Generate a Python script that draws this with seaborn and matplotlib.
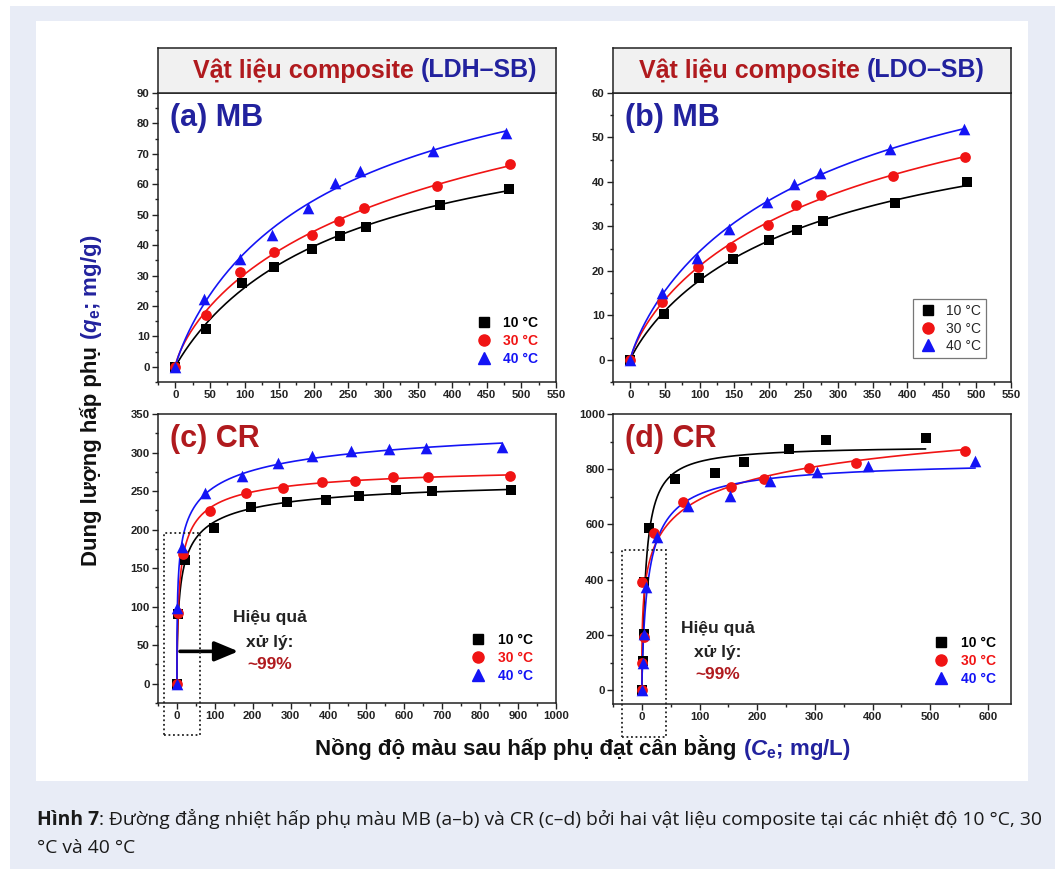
import numpy as np
import pandas as pd
import matplotlib
matplotlib.use("Agg")
import matplotlib.pyplot as plt
import seaborn as sns
from matplotlib.lines import Line2D
from matplotlib.patches import Rectangle
from matplotlib.ticker import MultipleLocator

# ---------------- data ----------------
temps = ["10 °C", "30 °C", "40 °C"]

# (a) MB on LDH-SB
a_C10 = [0, 44, 96, 143, 198, 238, 276, 382, 482]
a_q10 = [0, 12.4, 27.7, 32.9, 38.6, 43.0, 46.0, 53.3, 58.3]
a_C30 = [0, 44, 94, 142, 197, 237, 273, 378, 484]
a_q30 = [0, 17.0, 31.3, 37.8, 43.2, 47.8, 52.3, 59.3, 66.5]
a_C40 = [0, 42, 93, 139, 192, 230, 267, 372, 478]
a_q40 = [0, 22.2, 35.3, 43.2, 52.3, 60.3, 64.2, 71.0, 76.8]

# (b) MB on LDO-SB
b_C10 = [0, 48, 99, 148, 200, 241, 279, 382, 487]
b_q10 = [0, 10.2, 18.5, 22.6, 26.9, 29.1, 31.3, 35.2, 39.9]
b_C30 = [0, 46, 98, 145, 199, 239, 276, 379, 484]
b_q30 = [0, 13.0, 20.9, 25.4, 30.3, 34.7, 37.0, 41.3, 45.5]
b_C40 = [0, 46, 97, 143, 197, 236, 274, 375, 482]
b_q40 = [0, 15.1, 23.0, 29.5, 35.5, 39.6, 41.9, 47.3, 51.8]

# (c) CR on LDH-SB
c_C10 = [0, 4, 20, 99, 195, 290, 393, 479, 579, 672, 880]
c_q10 = [0, 90.7, 160, 202, 229, 236, 239, 243, 251.5, 250, 251.5]
c_C30 = [0, 3, 16, 86, 183, 279, 382, 469, 570, 663, 878]
c_q30 = [0, 92, 168.5, 224.7, 247, 253.7, 261.5, 263.6, 268, 268.8, 270]
c_C40 = [0, 1, 12, 74, 172, 266, 355, 458, 559, 657, 857]
c_q40 = [0, 98, 178, 247, 269, 286, 295.6, 302, 304, 305.5, 307.7]

# (d) CR on LDO-SB
d_C10 = [0, 2, 3, 3, 13, 57, 126, 177, 255, 320, 492]
d_q10 = [0, 104, 203, 391, 588, 763, 787, 827, 873, 906, 912]
d_C30 = [0, 0.6, 3, 0.5, 21, 71, 154, 212, 290, 371, 561]
d_q30 = [0, 100, 194, 391, 569, 681, 734, 763, 805, 823, 867]
d_C40 = [0, 2, 3, 8, 26, 80, 152, 223, 304, 392, 578]
d_q40 = [0, 100, 203, 375, 554, 666, 702, 757, 790, 811, 830]

panel_labels = ["(a) MB", "(b) MB", "(c) CR", "(d) CR"]
titles = ["LDH–SB", "LDO–SB"]
note_lines = ["Hiệu quả", "xử lý:", "~99%"]

# ---------------- style ----------------
W, H = 1058, 869
sns.set_theme(style="ticks")
plt.rcParams["font.family"] = ["Liberation Sans", "DejaVu Sans"]
plt.rcParams["mathtext.fontset"] = "custom"
plt.rcParams["mathtext.rm"] = "Liberation Sans:bold"
plt.rcParams["mathtext.bf"] = "Liberation Sans:bold"
plt.rcParams["mathtext.it"] = "Liberation Sans:italic:bold"

DARKRED = "#b01a1e"
TBLUE = "#22229e"
cols = ["#000000", "#f01414", "#1414f5"]
markers = ["s", "o", "^"]
msizes = [52, 60, 70]

fig = plt.figure(figsize=(W / 100, H / 100), dpi=100)
fig.patch.set_facecolor("white")
fig.patches.append(Rectangle((10 / W, 0), (1055 - 10) / W, 1 - 6 / H,
                             transform=fig.transFigure, facecolor="#e8ecf6",
                             edgecolor="none", zorder=-10))
fig.patches.append(Rectangle((36 / W, 1 - 781 / H), (1028 - 36) / W, (781 - 21) / H,
                             transform=fig.transFigure, facecolor="white",
                             edgecolor="none", zorder=-9))


def rect(l, t, r, b):
    return [l / W, 1 - b / H, (r - l) / W, (b - t) / H]


def sips_fit(C, q):
    C = np.asarray(C, float)
    q = np.asarray(q, float)
    best = None
    for lk in np.linspace(-5, 1.5, 131):
        K = 10 ** lk
        for n in np.linspace(0.2, 1.6, 71):
            f = (K * C) ** n
            f = f / (1 + f)
            qm = (f @ q) / (f @ f)
            err = np.sum((q - qm * f) ** 2)
            if best is None or err < best[0]:
                best = (err, qm, K, n)
    _, qm, K, n = best
    xs = np.concatenate([[0], np.geomspace(1e-3, C.max(), 500)])
    f = (K * xs) ** n
    return xs, qm * f / (1 + f)


def style_axes(ax, xlim, ylim, xmaj, ymaj):
    ax.set_xlim(*xlim)
    ax.set_ylim(*ylim)
    ax.xaxis.set_major_locator(MultipleLocator(xmaj))
    ax.xaxis.set_minor_locator(MultipleLocator(xmaj / 2))
    ax.yaxis.set_major_locator(MultipleLocator(ymaj))
    ax.yaxis.set_minor_locator(MultipleLocator(ymaj / 2))
    ax.tick_params(which="major", direction="out", length=4, width=1,
                   labelsize=8.2, colors="#222222", pad=2)
    ax.tick_params(which="minor", direction="out", length=2.2, width=1, colors="#222222")
    for lab in ax.get_xticklabels() + ax.get_yticklabels():
        lab.set_fontweight("bold")
    for s in ax.spines.values():
        s.set_linewidth(1.1)
        s.set_color("#222222")
        s.set_visible(True)
    ax.set_xlabel("")
    ax.set_ylabel("")
    ax.set_facecolor("white")


panels = [
    dict(r=rect(158, 93, 556, 382), data=[(a_C10, a_q10), (a_C30, a_q30), (a_C40, a_q40)],
         xlim=(-25, 550), ylim=(-5, 90), xmaj=50, ymaj=10, lc=TBLUE),
    dict(r=rect(613, 93, 1011, 382), data=[(b_C10, b_q10), (b_C30, b_q30), (b_C40, b_q40)],
         xlim=(-25, 550), ylim=(-5, 60), xmaj=50, ymaj=10, lc=TBLUE),
    dict(r=rect(158, 414, 556, 703), data=[(c_C10, c_q10), (c_C30, c_q30), (c_C40, c_q40)],
         xlim=(-50, 1000), ylim=(-25, 350), xmaj=100, ymaj=50, lc=DARKRED),
    dict(r=rect(613, 414, 1011, 704), data=[(d_C10, d_q10), (d_C30, d_q30), (d_C40, d_q40)],
         xlim=(-50, 640), ylim=(-50, 1000), xmaj=100, ymaj=200, lc=DARKRED),
]

axes = []
for i, p in enumerate(panels):
    ax = fig.add_axes(p["r"])
    axes.append(ax)
    for j, (C, q) in enumerate(p["data"]):
        xs, ys = sips_fit(C, q)
        sns.lineplot(x=xs, y=ys, color=cols[j], lw=1.2, ax=ax, sort=False,
                     estimator=None, legend=False, zorder=2)
    for j, (C, q) in enumerate(p["data"]):
        df = pd.DataFrame({"C": C, "q": q})
        sns.scatterplot(data=df, x="C", y="q", marker=markers[j], color=cols[j],
                        s=msizes[j], linewidth=0, ax=ax, legend=False, zorder=3,
                        clip_on=False)
    style_axes(ax, p["xlim"], p["ylim"], p["xmaj"], p["ymaj"])
    ax.text(0.03, 0.965, panel_labels[i], transform=ax.transAxes, ha="left", va="top",
            fontsize=22, fontweight="bold", color=p["lc"])

# legends
handles = [Line2D([], [], ls="none", marker=m, color=c, markersize=ms)
           for m, c, ms in zip(markers, cols, [7, 8, 8.5])]
leg_specs = [
    (axes[0], (0.955, 0.055), False),
    (axes[1], (0.937, 0.083), True),
    (axes[2], (0.942, 0.068), False),
    (axes[3], (0.962, 0.062), False),
]
for ax, anchor, framed in leg_specs:
    if framed:
        leg = ax.legend(handles, temps, loc="lower right", bbox_to_anchor=anchor,
                        frameon=True, fancybox=False, edgecolor="#555555",
                        prop={"size": 10}, handletextpad=0.6, labelspacing=0.25,
                        borderpad=0.35, borderaxespad=0, handlelength=1.4)
        leg.get_frame().set_linewidth(0.9)
    else:
        leg = ax.legend(handles, temps, loc="lower right", bbox_to_anchor=anchor,
                        frameon=False, prop={"size": 10, "weight": "bold"},
                        labelcolor=cols, handletextpad=0.8, labelspacing=0.3,
                        borderpad=0, borderaxespad=0, handlelength=1.2)

# title boxes
TFS = 18
for r, t, shift in zip([rect(158, 48, 556, 93), rect(613, 48, 1011, 93)], titles, [8, 0]):
    tax = fig.add_axes(r)
    tax.set_facecolor("#f1f1f1")
    tax.set_xticks([])
    tax.set_yticks([])
    for s in tax.spines.values():
        s.set_linewidth(1.1)
        s.set_color("#222222")
    t1 = tax.text(0, 0.5, "Vật liệu composite", transform=tax.transAxes, ha="left",
                  va="center", fontsize=TFS, fontweight="bold", color=DARKRED)
    t2 = tax.text(0, 0.5, "(" + t + ")", transform=tax.transAxes, ha="left",
                  va="center", fontsize=TFS, fontweight="bold", color=TBLUE)
    fig.canvas.draw()
    rend = fig.canvas.get_renderer()
    w1 = t1.get_window_extent(rend).width
    w2 = t2.get_window_extent(rend).width
    gap = 0.28 * TFS * 100 / 72
    axw = tax.get_window_extent(rend).width
    start = (axw - (w1 + gap + w2)) / 2 + shift
    t1.set_x(start / axw)
    t2.set_x((start + w1 + gap) / axw)

# dotted boxes, arrow, notes
axc, axd = axes[2], axes[3]
axc.add_patch(Rectangle((-35, -67), 97, 263, fill=False, ls=(0, (1, 1.5)), lw=1.3,
                        edgecolor="#222222", clip_on=False, zorder=5))
axd.add_patch(Rectangle((-35, -171), 77, 680, fill=False, ls=(0, (1, 1.5)), lw=1.3,
                        edgecolor="#222222", clip_on=False, zorder=5))
axc.annotate("", xy=(162, 42), xytext=(8, 42),
             arrowprops=dict(arrowstyle="-|>,head_length=1.2,head_width=0.5",
                             lw=2.6, color="black", shrinkA=0, shrinkB=0))
for ax, x, ys in [(axc, 244, [86.5, 53.6, 25]), (axd, 132, [225, 138, 58])]:
    for k, (line, y) in enumerate(zip(note_lines, ys)):
        ax.text(x, y, line, ha="center", va="center", fontsize=12.5, fontweight="bold",
                color=DARKRED if k == 2 else "#222222")

# axis labels (two colours)
fig.canvas.draw()
rend = fig.canvas.get_renderer()
fs_lab = 16

ya = fig.text(0, 0, "Dung lượng hấp phụ", rotation=90, rotation_mode="anchor",
              ha="left", va="baseline", fontsize=fs_lab, fontweight="bold", color="#111111")
yb = fig.text(0, 0, r"($\mathit{q}_{\mathrm{e}}$; mg/g)", rotation=90, rotation_mode="anchor",
              ha="left", va="baseline", fontsize=fs_lab, fontweight="bold", color=TBLUE)
xa = fig.text(0, 0, "Nồng độ màu sau hấp phụ đạt cân bằng", ha="left", va="baseline",
              fontsize=fs_lab, fontweight="bold", color="#111111")
xb = fig.text(0, 0, r"($\mathit{C}_{\mathrm{e}}$; mg/L)", ha="left", va="baseline",
              fontsize=fs_lab, fontweight="bold", color=TBLUE)
fig.canvas.draw()
gap = 0.28 * fs_lab * 100 / 72
L1 = ya.get_window_extent(rend).height
L2 = yb.get_window_extent(rend).height
ycen = 400
ystart = H - ycen - (L1 + gap + L2) / 2  # pixel from bottom
xbase = 97
ya.set_position((xbase / W, ystart / H))
yb.set_position((xbase / W, (ystart + L1 + gap) / H))

w1 = xa.get_window_extent(rend).width
w2 = xb.get_window_extent(rend).width
xcen = 583
xstart = xcen - (w1 + gap + w2) / 2
xa.set_position((xstart / W, (H - 755) / H))
xb.set_position(((xstart + w1 + gap) / W, (H - 755) / H))

# caption
cfs = 13.9
cfam = ["Open Sans", "DejaVu Sans"]
c1 = fig.text(37 / W, 1 - 825 / H, "Hình 7", fontsize=cfs, fontweight="bold",
              family=cfam, color="#1a1a1a", ha="left", va="baseline")
fig.canvas.draw()
cw = c1.get_window_extent(rend).width
fig.text((37 + cw) / W, 1 - 825 / H,
         ": Đường đẳng nhiệt hấp phụ màu MB (a–b) và CR (c–d) bởi hai vật liệu composite tại các nhiệt độ 10 °C, 30",
         fontsize=cfs, family=cfam, color="#1a1a1a", ha="left", va="baseline")
fig.text(37 / W, 1 - 853 / H, "°C và 40 °C", fontsize=cfs,
         family=cfam, color="#1a1a1a", ha="left", va="baseline")

fig.savefig("out.png", dpi=100, facecolor=fig.get_facecolor())
